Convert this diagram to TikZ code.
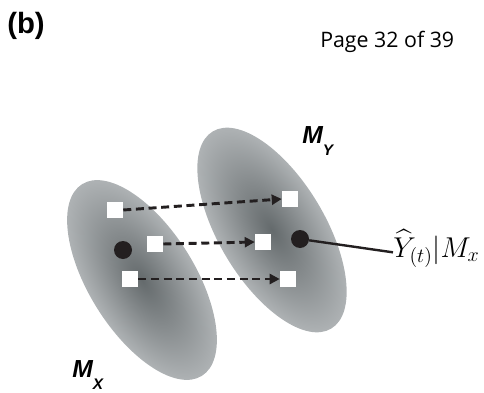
\RequirePackage{fix-cm}
\documentclass[tikz,border=0pt]{standalone}
\usepackage{amsmath}
\usepackage{fontspec}
\setmainfont{Liberation Sans}
\newfontfamily\pagefont{Open Sans}
\usetikzlibrary{arrows.meta}

\definecolor{blobin}{RGB}{100,106,108}
\definecolor{blobmid}{RGB}{132,137,139}
\definecolor{blobout}{RGB}{174,178,180}
\definecolor{dotcol}{RGB}{35,31,32}
\pgfdeclareradialshading{manifold}{\pgfpoint{0bp}{0bp}}{%
  color(0bp)=(blobin); color(11bp)=(blobmid);
  color(25bp)=(blobout); color(50bp)=(blobout)}

\tikzset{
  blob/.style={shading=manifold},
  point/.style={circle, fill=dotcol, inner sep=0pt, minimum size=13.5pt},
  sample/.style={fill=white, inner sep=0pt, minimum size=12pt},
  mapto/.style={dash pattern=on 6pt off 3.5pt, line width=2.2pt, dotcol,
    -{Triangle[length=7.5pt,width=7.5pt]}},
  setname/.style={anchor=base west, inner sep=0pt,
    font=\fontsize{18.5}{22}\selectfont\bfseries\itshape},
}

\begin{document}
\begin{tikzpicture}[x=0.75pt, y=-0.75pt]
    \useasboundingbox (0,0) rectangle (484,392);
    % the two manifolds
    \begin{scope}[transform canvas={shift={(142,280)}, rotate=32}]
      \shade[blob] (0,0) ellipse[x radius=53, y radius=113];
    \end{scope}
    \begin{scope}[transform canvas={shift={(272,230)}, rotate=31}]
      \shade[blob] (0,0) ellipse[x radius=53, y radius=115];
    \end{scope}
    % samples on M_X and M_Y
    \node[sample] (sxa) at (115,210) {};
    \node[sample] (sxb) at (155,244) {};
    \node[sample] (sxc) at (130,279) {};
    \node[sample] (sya) at (290,199) {};
    \node[sample] (syb) at (263,242) {};
    \node[sample] (syc) at (288,279) {};
    \node[point] (ptx) at (123,250) {};
    \node[point] (pty) at (300,239) {};
    % mappings
    \draw[mapto] (sxa.east) -- (sya.west);
    \draw[mapto] (sxb.east) -- (syb.west);
    \draw[mapto] (sxc.east) -- (syc.west);
    % labels
    \node[anchor=west, inner sep=0pt, font=\fontsize{22}{26}\selectfont\bfseries]
      (tag) at (7,26) {(b)};
    \node[anchor=base west, inner sep=0pt, font=\pagefont\fontsize{16}{19}\selectfont]
      (page) at (320,48) {Page 32 of 39};
    \node[setname] (my) at (302,143)
      {M\raisebox{-9pt}{\fontsize{11.5}{13}\selectfont Y}};
    \node[setname] (mx) at (72,377)
      {M\raisebox{-9pt}{\fontsize{11.5}{13}\selectfont X}};
    \node[anchor=base west, inner sep=0pt, font=\fontsize{21.5}{26}\selectfont]
      (est) at (393,257) {$\widehat{Y}_{(t)}|M_x$};
    \draw[dotcol, line width=1.8pt] (pty) -- ([yshift=3.5pt]est.base west);
\end{tikzpicture}
\end{document}
